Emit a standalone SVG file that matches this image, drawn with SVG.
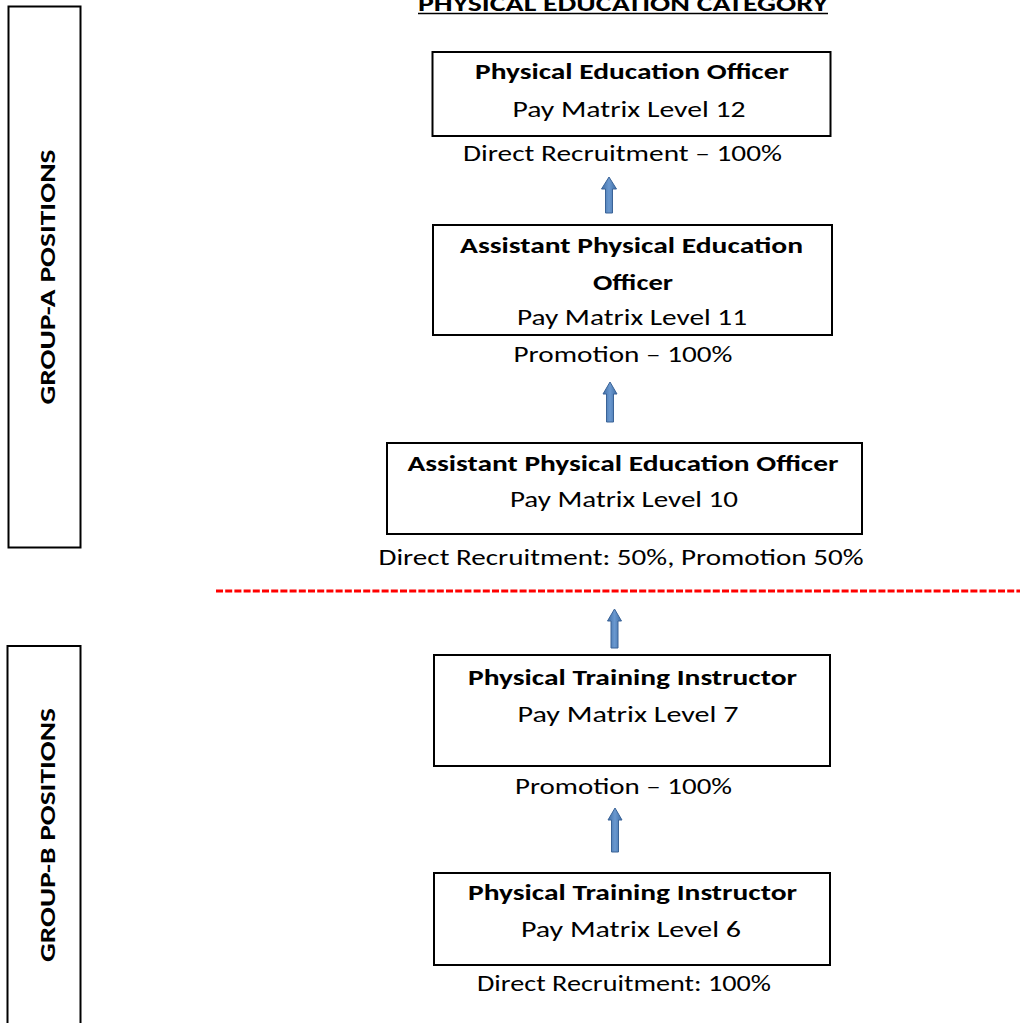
<svg xmlns="http://www.w3.org/2000/svg" width="1020" height="1023" viewBox="0 0 1020 1023">
<style>
text{font-family:Carlito,Lato,"Liberation Sans",sans-serif;font-size:22px;fill:#000;text-anchor:middle}
.b{font-weight:bold}
.box{fill:#fff;stroke:#000;stroke-width:2}
.arr{fill:url(#ag);stroke:#3a6397;stroke-width:1}
</style>
<defs>
<linearGradient id="ag" x1="0" y1="0" x2="1" y2="0">
<stop offset="0" stop-color="#3f6ea6"/>
<stop offset="0.5" stop-color="#6a98cf"/>
<stop offset="1" stop-color="#3f6ea6"/>
</linearGradient>
</defs>
<rect width="1020" height="1023" fill="#fff"/>

<g id="title">
<text class="b" x="623" y="11" textLength="410" lengthAdjust="spacingAndGlyphs">PHYSICAL EDUCATION CATEGORY</text>
<line x1="418" y1="13.5" x2="828" y2="13.5" stroke="#000" stroke-width="1.5"/>
</g>

<g id="group-a">
<rect class="box" x="8.5" y="6.5" width="72" height="541" stroke-width="1.5"/>
<text class="b" transform="translate(55,277) rotate(-90)" textLength="255" lengthAdjust="spacingAndGlyphs">GROUP-A POSITIONS</text>
</g>
<g id="group-b">
<rect class="box" x="7.5" y="646" width="73" height="400" stroke-width="1.5"/>
<text class="b" transform="translate(55,835) rotate(-90)" textLength="254" lengthAdjust="spacingAndGlyphs">GROUP-B POSITIONS</text>
</g>

<g id="peo12">
<rect class="box" x="432.5" y="52" width="398" height="84"/>
<text class="b" x="632" y="79" textLength="314" lengthAdjust="spacingAndGlyphs">Physical Education Officer</text>
<text x="629" y="117" textLength="233" lengthAdjust="spacingAndGlyphs">Pay Matrix Level 12</text>
</g>
<g id="label-dr100">
<text x="622.5" y="161" textLength="319" lengthAdjust="spacingAndGlyphs">Direct Recruitment – 100%</text>
</g>

<g id="apeo11">
<rect class="box" x="433" y="225" width="399" height="110"/>
<text class="b" x="631.5" y="253" textLength="343" lengthAdjust="spacingAndGlyphs">Assistant Physical Education</text>
<text class="b" x="633" y="290" textLength="80" lengthAdjust="spacingAndGlyphs">Officer</text>
<text x="632" y="325" textLength="230" lengthAdjust="spacingAndGlyphs">Pay Matrix Level 11</text>
</g>
<g id="label-promo1">
<text x="623" y="362" textLength="219" lengthAdjust="spacingAndGlyphs">Promotion – 100%</text>
</g>

<g id="apeo10">
<rect class="box" x="387" y="443" width="475" height="91"/>
<text class="b" x="623" y="471" textLength="431" lengthAdjust="spacingAndGlyphs">Assistant Physical Education Officer</text>
<text x="624" y="507" textLength="228" lengthAdjust="spacingAndGlyphs">Pay Matrix Level 10</text>
</g>
<g id="label-dr50">
<text x="621" y="565" textLength="485" lengthAdjust="spacingAndGlyphs">Direct Recruitment: 50%, Promotion 50%</text>
</g>

<g id="divider">
<line x1="216" y1="591" x2="1020" y2="591" stroke="#ff0000" stroke-width="3" stroke-dasharray="7 2.2"/>
</g>

<g id="pti7">
<rect class="box" x="434" y="655" width="396" height="111"/>
<text class="b" x="632.5" y="685" textLength="329" lengthAdjust="spacingAndGlyphs">Physical Training Instructor</text>
<text x="628" y="722" textLength="221" lengthAdjust="spacingAndGlyphs">Pay Matrix Level 7</text>
</g>
<g id="label-promo2">
<text x="623.5" y="794" textLength="217" lengthAdjust="spacingAndGlyphs">Promotion – 100%</text>
</g>

<g id="pti6">
<rect class="box" x="434" y="873" width="396" height="92"/>
<text class="b" x="632.5" y="900" textLength="329" lengthAdjust="spacingAndGlyphs">Physical Training Instructor</text>
<text x="631" y="937" textLength="220" lengthAdjust="spacingAndGlyphs">Pay Matrix Level 6</text>
</g>
<g id="label-dr100b">
<text x="624" y="991" textLength="294" lengthAdjust="spacingAndGlyphs">Direct Recruitment: 100%</text>
</g>

<g id="connectors">
<path class="arr" d="M609,177 L616.5,189 L612.5,189 L612.5,213 L605.5,213 L605.5,189 L601.5,189 Z"/>
<path class="arr" d="M610,382 L617,394 L613.5,394 L613.5,422 L606.5,422 L606.5,394 L603,394 Z"/>
<path class="arr" d="M614.5,609 L621.5,621 L618,621 L618,648 L611,648 L611,621 L607.5,621 Z"/>
<path class="arr" d="M615,808 L622,820 L618.5,820 L618.5,852 L611.5,852 L611.5,820 L608,820 Z"/>
</g>
</svg>
